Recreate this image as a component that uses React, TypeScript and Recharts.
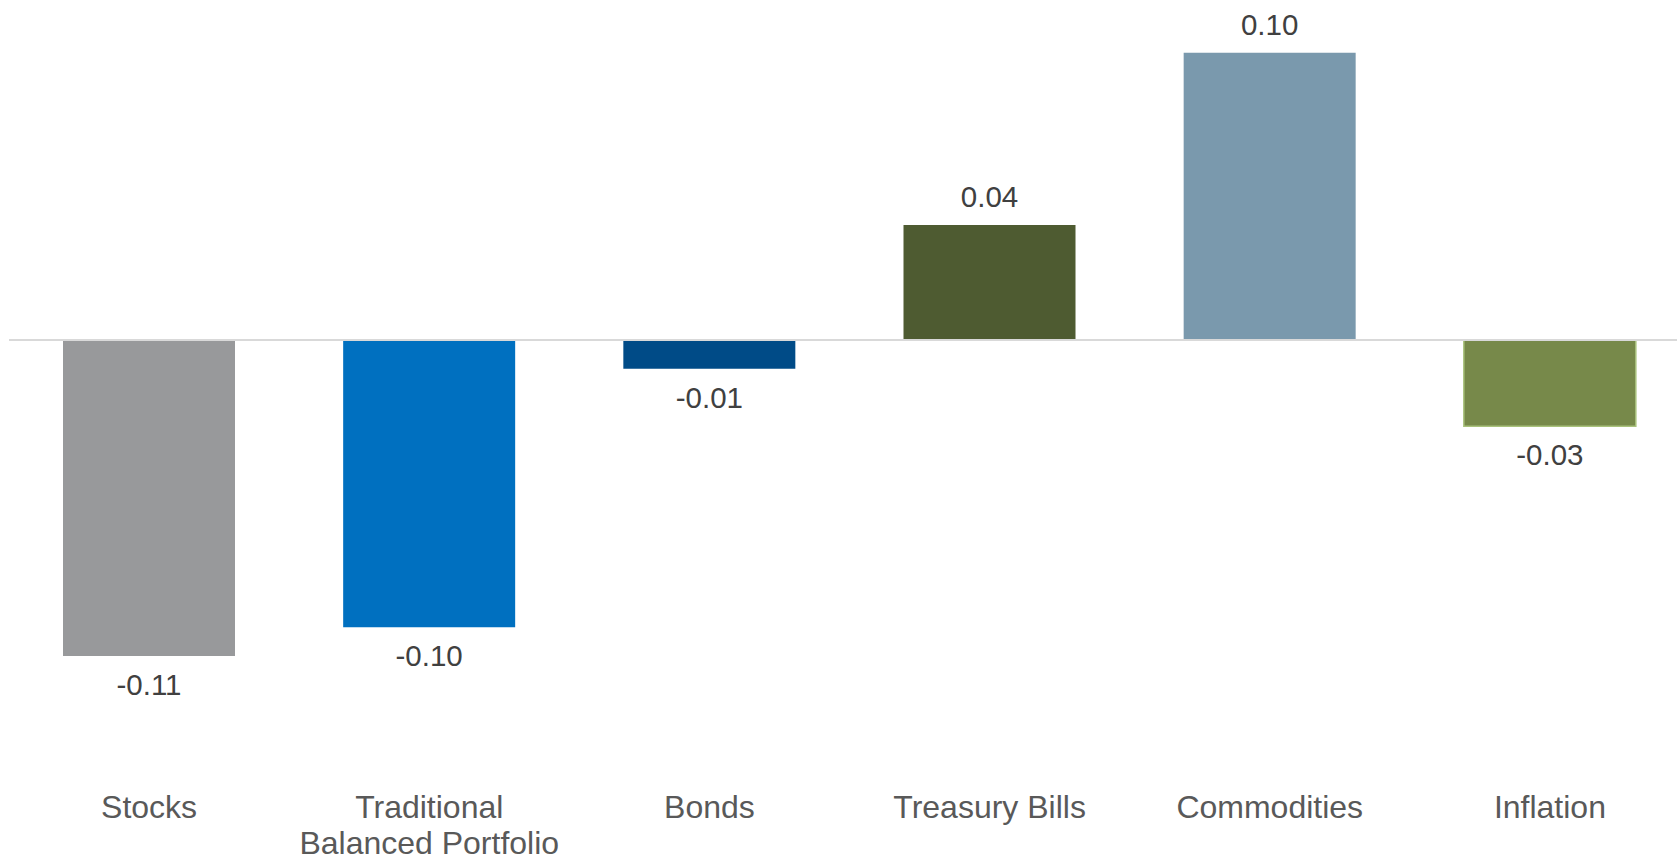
import React from "react";
import { BarChart, Bar, XAxis, YAxis, Cell, LabelList, ReferenceLine } from "recharts";

const categories = ["Stocks", "Traditional Balanced Portfolio", "Bonds", "Treasury Bills", "Commodities", "Inflation"];
const values = [-0.11, -0.1, -0.01, 0.04, 0.1, -0.03];
const barColors = ["#98999b", "#0070c0", "#004b87", "#4e5b31", "#7a99ad", "#77894a"];
const barBorders = ["none", "none", "none", "none", "none", "#a9c27c"];

const data = categories.map((name, i) => ({ name, value: values[i] }));

const FONT = '"Liberation Sans", Arial, sans-serif';

// splits long category names onto two lines like the original
function CategoryTick(props: any) {
  const { x, y, payload } = props;
  const label: string = payload.value;
  let lines = [label];
  if (label.length > 20) {
    const cut = label.indexOf(" ");
    lines = [label.slice(0, cut), label.slice(cut + 1)];
  }
  return (
    <text x={x} y={y} textAnchor="middle" fill="#595959" fontSize={32} fontFamily={FONT}>
      {lines.map((l, i) => (
        <tspan key={i} x={x} dy={i === 0 ? 104 : 36}>
          {l}
        </tspan>
      ))}
    </text>
  );
}

function ValueLabel(props: any) {
  const { x, y, width, height, value } = props;
  const top = Math.min(y, y + height);
  const bottom = Math.max(y, y + height);
  const ty = value >= 0 ? top - 18 : bottom + 39;
  return (
    <text x={x + width / 2} y={ty} textAnchor="middle" fill="#404040" fontSize={29.5} fontFamily={FONT}>
      {value.toFixed(2)}
    </text>
  );
}

export default function App() {
  return (
    <div style={{ position: "absolute", left: 0, top: 0, width: 1677, height: 857, overflow: "hidden", background: "#fff" }}>
      <BarChart
        width={1690}
        height={857}
        data={data}
        margin={{ top: 24, right: 0, bottom: 83.5, left: 9 }}
      >
        <XAxis
          dataKey="name"
          axisLine={false}
          tickLine={false}
          tickSize={0}
          tickMargin={0}
          height={60}
          interval={0}
          tick={<CategoryTick />}
        />
        <YAxis hide domain={[-0.13, 0.11]} allowDataOverflow />
        <Bar dataKey="value" barSize={172} isAnimationActive={false}>
          {data.map((d, i) => (
            <Cell key={d.name} fill={barColors[i]} stroke={barBorders[i]} strokeWidth={1.5} />
          ))}
          <LabelList dataKey="value" content={<ValueLabel />} />
        </Bar>
        <ReferenceLine y={0} stroke="#d9d9d9" strokeWidth={2} />
      </BarChart>
    </div>
  );
}
